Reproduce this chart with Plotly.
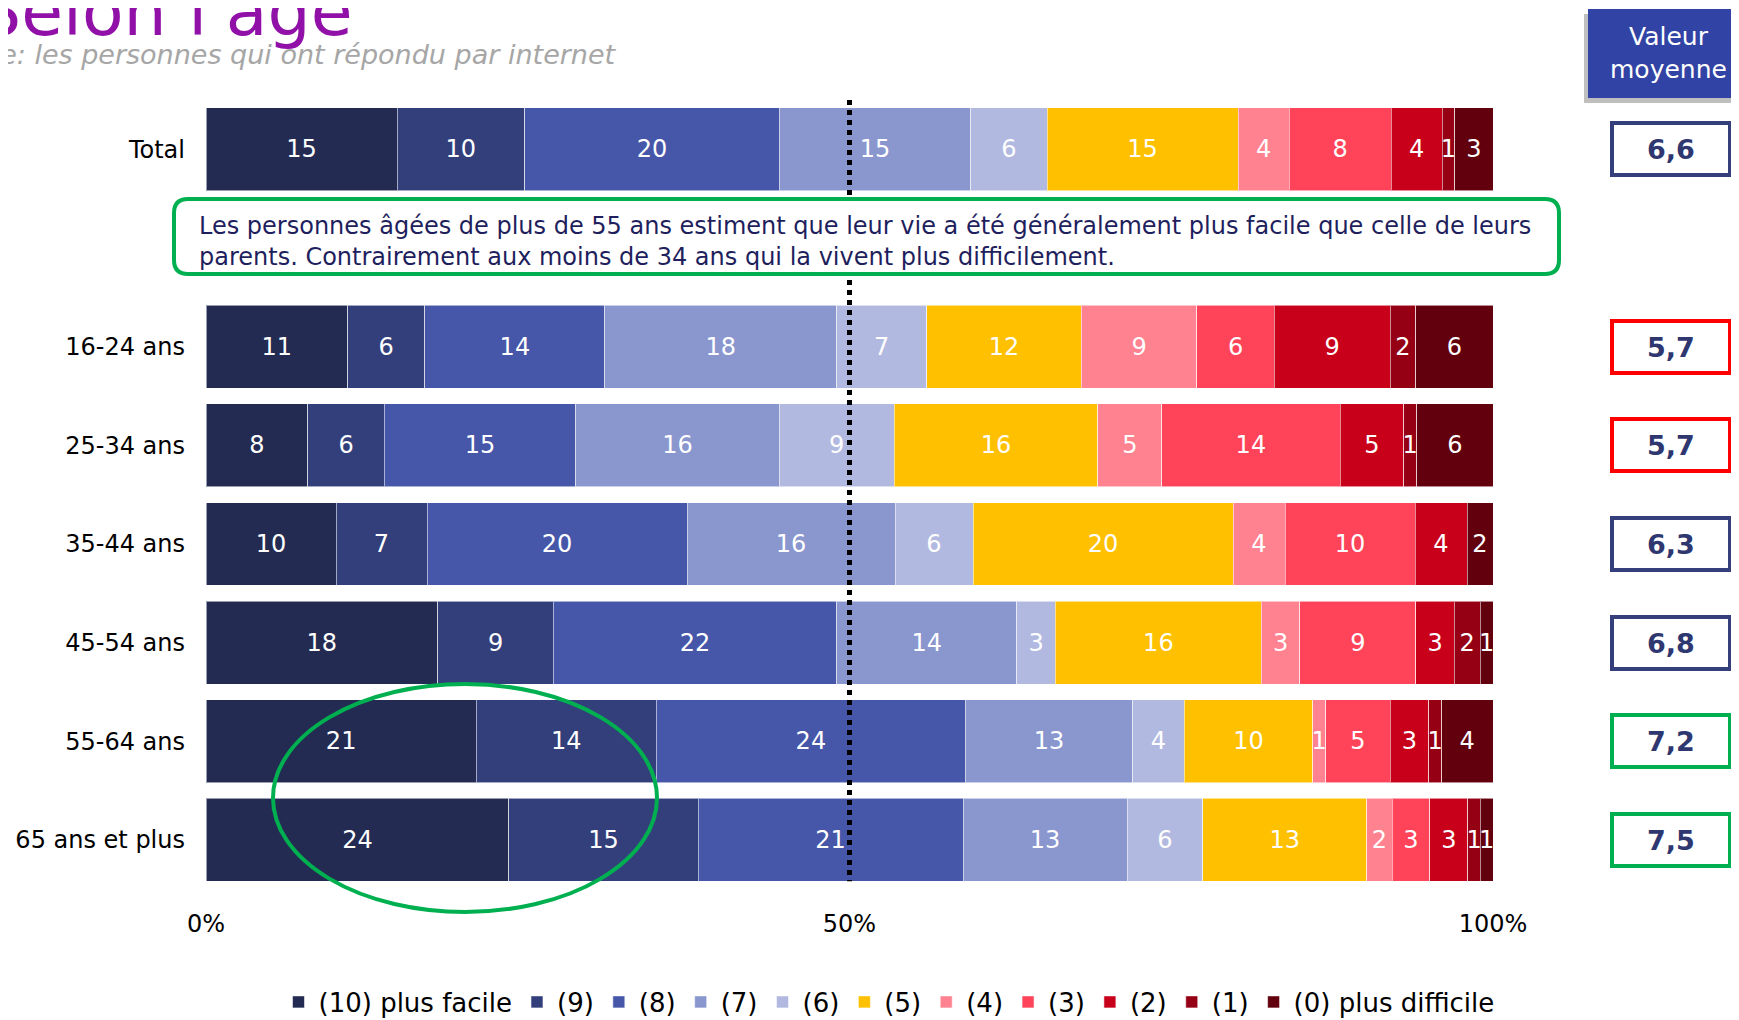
import plotly.graph_objects as go

# ---------------- data ----------------
categories = ["Total", "16-24 ans", "25-34 ans", "35-44 ans", "45-54 ans", "55-64 ans", "65 ans et plus"]
levels = ["(10) plus facile", "(9)", "(8)", "(7)", "(6)", "(5)", "(4)", "(3)", "(2)", "(1)", "(0) plus difficile"]

total = [15, 10, 20, 15, 6, 15, 4, 8, 4, 1, 3]
age_16_24 = [11, 6, 14, 18, 7, 12, 9, 6, 9, 2, 6]
age_25_34 = [8, 6, 15, 16, 9, 16, 5, 14, 5, 1, 6]
age_35_44 = [10, 7, 20, 16, 6, 20, 4, 10, 4, 0, 2]
age_45_54 = [18, 9, 22, 14, 3, 16, 3, 9, 3, 2, 1]
age_55_64 = [21, 14, 24, 13, 4, 10, 1, 5, 3, 1, 4]
age_65_plus = [24, 15, 21, 13, 6, 13, 2, 3, 3, 1, 1]

mean_values = [6.6, 5.7, 5.7, 6.3, 6.8, 7.2, 7.5]

x_tick_values = [0, 50, 100]
x_tick_labels = ["0%", "50%", "100%"]

title_text = "Selon l'âge"
subtitle_text = "Base: les personnes qui ont répondu par internet"
callout_text = ("Les personnes âgées de plus de 55 ans estiment que leur vie a été généralement plus facile que celle de leurs<br>"
                "parents. Contrairement aux moins de 34 ans qui la vivent plus difficilement.")
header_text = "Valeur<br>moyenne"

# ---------------- styles ----------------
level_colors = ["#232B52", "#333F7B", "#4656A8", "#8A96CE", "#B2B9E0", "#FFC000",
                "#FF8290", "#FF445A", "#C8001A", "#950014", "#62000E"]
mean_box_colors = ["#343F7C", "#FF0000", "#FF0000", "#343F7C", "#343F7C", "#00B050", "#00B050"]
GREEN = "#00B050"
FONT = "DejaVu Sans, Verdana, sans-serif"

OFF = 8  # default page body margin
W, H = 1739 - OFF, 1020 - OFF
ML, MR, MT, MB = 198, 246, 92, 113
PW, PH = W - ML - MR, H - MT - MB
Y_RANGE = [7.68, -0.5]


def px2x(px):
    """screen x pixel -> paper x"""
    return (px - OFF - ML) / PW


def py2y(py):
    """screen y pixel -> paper y"""
    return (MT + PH - (py - OFF)) / PH


# ---------------- build ----------------
spacer = " "
y_order = [categories[0], spacer] + categories[1:]
rows = [total, age_16_24, age_25_34, age_35_44, age_45_54, age_55_64, age_65_plus]
row_by_cat = dict(zip(categories, rows))

fig = go.Figure()
for i, (lvl, col) in enumerate(zip(levels, level_colors)):
    xs, texts = [], []
    for cat in y_order:
        if cat == spacer:
            xs.append(None)
            texts.append("")
        else:
            v = row_by_cat[cat][i]
            xs.append(v)
            texts.append(str(v) if v else "")
    fig.add_trace(go.Bar(
        name=lvl, y=y_order, x=xs, orientation="h",
        marker=dict(color=col, line=dict(color="rgba(255,255,255,0.55)", width=1)),
        text=texts, textposition="inside", insidetextanchor="middle",
        textangle=0, constraintext="none",
        textfont=dict(color="white", size=24, family=FONT),
        hoverinfo="name+x+y",
    ))

fig.update_layout(
    width=W, height=H,
    margin=dict(l=ML, r=MR, t=MT, b=MB, autoexpand=False),
    barmode="stack", barnorm="percent", bargap=0.16,
    plot_bgcolor="white", paper_bgcolor="white",
    font=dict(family=FONT, color="black"),
    uniformtext=dict(mode="show", minsize=22),
    showlegend=True,
    legend=dict(orientation="h", x=px2x(889), xanchor="center", y=py2y(1002), yanchor="middle",
                font=dict(size=26, family=FONT, color="black"), traceorder="normal",
                itemclick=False),
    xaxis=dict(range=[0, 100], tickvals=x_tick_values, ticktext=x_tick_labels, automargin=False,
               showgrid=False, zeroline=False, showline=False, ticks="",
               tickfont=dict(size=24, family=FONT, color="black"), fixedrange=True),
    yaxis=dict(type="category", categoryorder="array", categoryarray=y_order, automargin=False,
               range=Y_RANGE, showgrid=False, zeroline=False, showline=False, ticks="",
               ticklabelstandoff=20,
               tickfont=dict(size=24, family=FONT, color="black"), fixedrange=True),
)

# dotted 50% line
fig.add_shape(type="line", xref="x", yref="y", x0=50, x1=50, y0=-0.5, y1=len(y_order) - 1 + 0.42,
              line=dict(color="black", width=5, dash="dot"), layer="above")

# callout box with rounded corners (paper coords)
bx0, bx1 = px2x(174), px2x(1559)
by0, by1 = py2y(274), py2y(199)
rx, ry = 14 / PW, 14 / PH
path = (f"M {bx0+rx},{by1} L {bx1-rx},{by1} Q {bx1},{by1} {bx1},{by1-ry} "
        f"L {bx1},{by0+ry} Q {bx1},{by0} {bx1-rx},{by0} L {bx0+rx},{by0} "
        f"Q {bx0},{by0} {bx0},{by0+ry} L {bx0},{by1-ry} Q {bx0},{by1} {bx0+rx},{by1} Z")
fig.add_shape(type="path", xref="paper", yref="paper", path=path,
              line=dict(color=GREEN, width=4), fillcolor="white", layer="above")
fig.add_annotation(xref="paper", yref="paper", x=px2x(197), y=py2y(241.5), xanchor="left", yanchor="middle",
                   align="left", showarrow=False, text=callout_text,
                   font=dict(size=24, family=FONT, color="#1F1F5E"))

# ellipse highlight
fig.add_shape(type="circle", xref="paper", yref="paper",
              x0=px2x(273), x1=px2x(657), y0=py2y(912), y1=py2y(684),
              line=dict(color=GREEN, width=4), layer="above")

# title & subtitle
fig.add_annotation(xref="paper", yref="paper", x=px2x(-24), y=py2y(12), xanchor="left", yanchor="middle",
                   showarrow=False, text=title_text, font=dict(size=68, family=FONT, color="#9010A8"))
fig.add_annotation(xref="paper", yref="paper", x=px2x(619), y=py2y(55), xanchor="right", yanchor="middle",
                   showarrow=False, text=f"<i>{subtitle_text}</i>",
                   font=dict(size=27, family=FONT, color="#A6A6A6"))

# header "Valeur moyenne" with shadow
fig.add_shape(type="rect", xref="paper", yref="paper", x0=px2x(1584), x1=px2x(1745),
              y0=py2y(103), y1=py2y(14), fillcolor="rgba(0,0,0,0.25)", line=dict(width=0), layer="above")
fig.add_shape(type="rect", xref="paper", yref="paper", x0=px2x(1588), x1=px2x(1745),
              y0=py2y(98), y1=py2y(9), fillcolor="#3143A4", line=dict(width=0), layer="above")
fig.add_annotation(xref="paper", yref="paper", x=px2x(1668), y=py2y(53), xanchor="center", yanchor="middle",
                   showarrow=False, text=header_text, font=dict(size=25, family=FONT, color="white"))

# mean value boxes
for cat, val, col in zip(categories, mean_values, mean_box_colors):
    fig.add_annotation(xref="paper", yref="y", x=px2x(1671), y=cat, xanchor="center", yanchor="middle",
                       showarrow=False, text=f"<b>{val:.1f}</b>".replace(".", ","),
                       font=dict(size=27, family=FONT, color="#2E3770"),
                       bgcolor="white", bordercolor=col, borderwidth=4, borderpad=2,
                       width=110, height=44)

fig.write_html("out.html")
